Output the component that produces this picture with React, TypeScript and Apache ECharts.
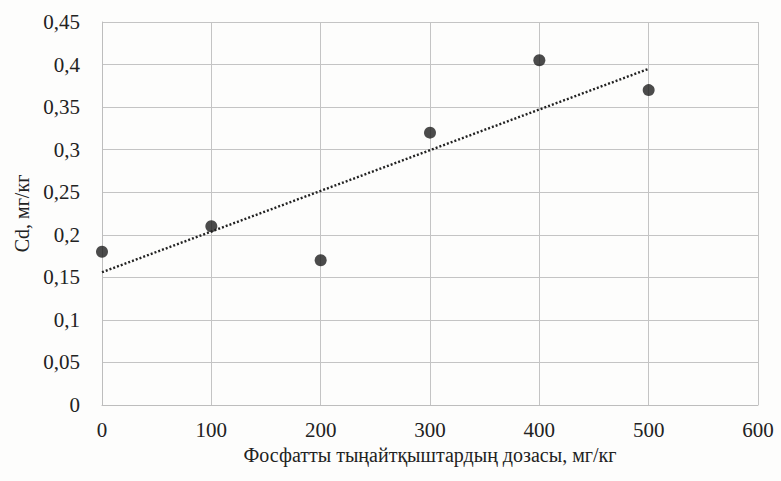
import React, { useEffect, useRef } from "react";
import * as echarts from "echarts";

const doses = [0, 100, 200, 300, 400, 500];
const cdValues = [0.18, 0.21, 0.17, 0.32, 0.405, 0.37];
const trendX = [0, 500];
const trendY = [0.156, 0.395];
const xTicks = [0, 100, 200, 300, 400, 500, 600];
const yTicks = [0, 0.05, 0.1, 0.15, 0.2, 0.25, 0.3, 0.35, 0.4, 0.45];

const fmt = (v: number) => String(v).replace(".", ",");

export default function App() {
  const ref = useRef<HTMLDivElement>(null);
  useEffect(() => {
    document.body.style.margin = "0";
    const chart = echarts.init(ref.current!, undefined, { renderer: "svg" });
    const font = "'Liberation Serif', 'DejaVu Serif', serif";
    chart.setOption({
      animation: false,
      backgroundColor: "#fdfdfc",
      grid: { left: 102, right: 23, top: 22, bottom: 76 },
      xAxis: {
        type: "value",
        min: xTicks[0],
        max: xTicks[xTicks.length - 1],
        interval: 100,
        name: "Фосфатты тыңайтқыштардың дозасы, мг/кг",
        nameLocation: "middle",
        nameGap: 40,
        nameTextStyle: { fontFamily: font, fontSize: 20, color: "#222" },
        axisLine: { show: true, lineStyle: { color: "#bdbdbd", width: 1 } },
        axisTick: { show: false },
        axisLabel: { fontFamily: font, fontSize: 21, color: "#222", margin: 14, formatter: (v: number) => fmt(v) },
        splitLine: { show: true, lineStyle: { color: "#c4c4c4", width: 1 } },
      },
      yAxis: {
        type: "value",
        min: yTicks[0],
        max: yTicks[yTicks.length - 1],
        interval: 0.05,
        name: "Cd, мг/кг",
        nameLocation: "middle",
        nameGap: 70,
        nameRotate: 90,
        nameTextStyle: { fontFamily: font, fontSize: 20, color: "#222" },
        axisLine: { show: true, lineStyle: { color: "#bdbdbd", width: 1 } },
        axisTick: { show: false },
        axisLabel: {
          fontFamily: font,
          fontSize: 21,
          color: "#222",
          margin: 22,
          formatter: (v: number) => fmt(Math.round(v * 100) / 100),
        },
        splitLine: { show: true, lineStyle: { color: "#c4c4c4", width: 1 } },
      },
      series: [
        {
          type: "line",
          data: trendX.map((x, i) => [x, trendY[i]]),
          symbol: "none",
          lineStyle: { color: "#222", width: 2.4, type: [2, 2] },
          z: 2,
        },
        {
          type: "scatter",
          data: doses.map((x, i) => [x, cdValues[i]]),
          symbol: "circle",
          symbolSize: 12,
          itemStyle: { color: "#1e1e1e" },
          z: 3,
        },
      ],
    });
    return () => chart.dispose();
  }, []);
  return <div ref={ref} style={{ width: 781, height: 481 }} />;
}
